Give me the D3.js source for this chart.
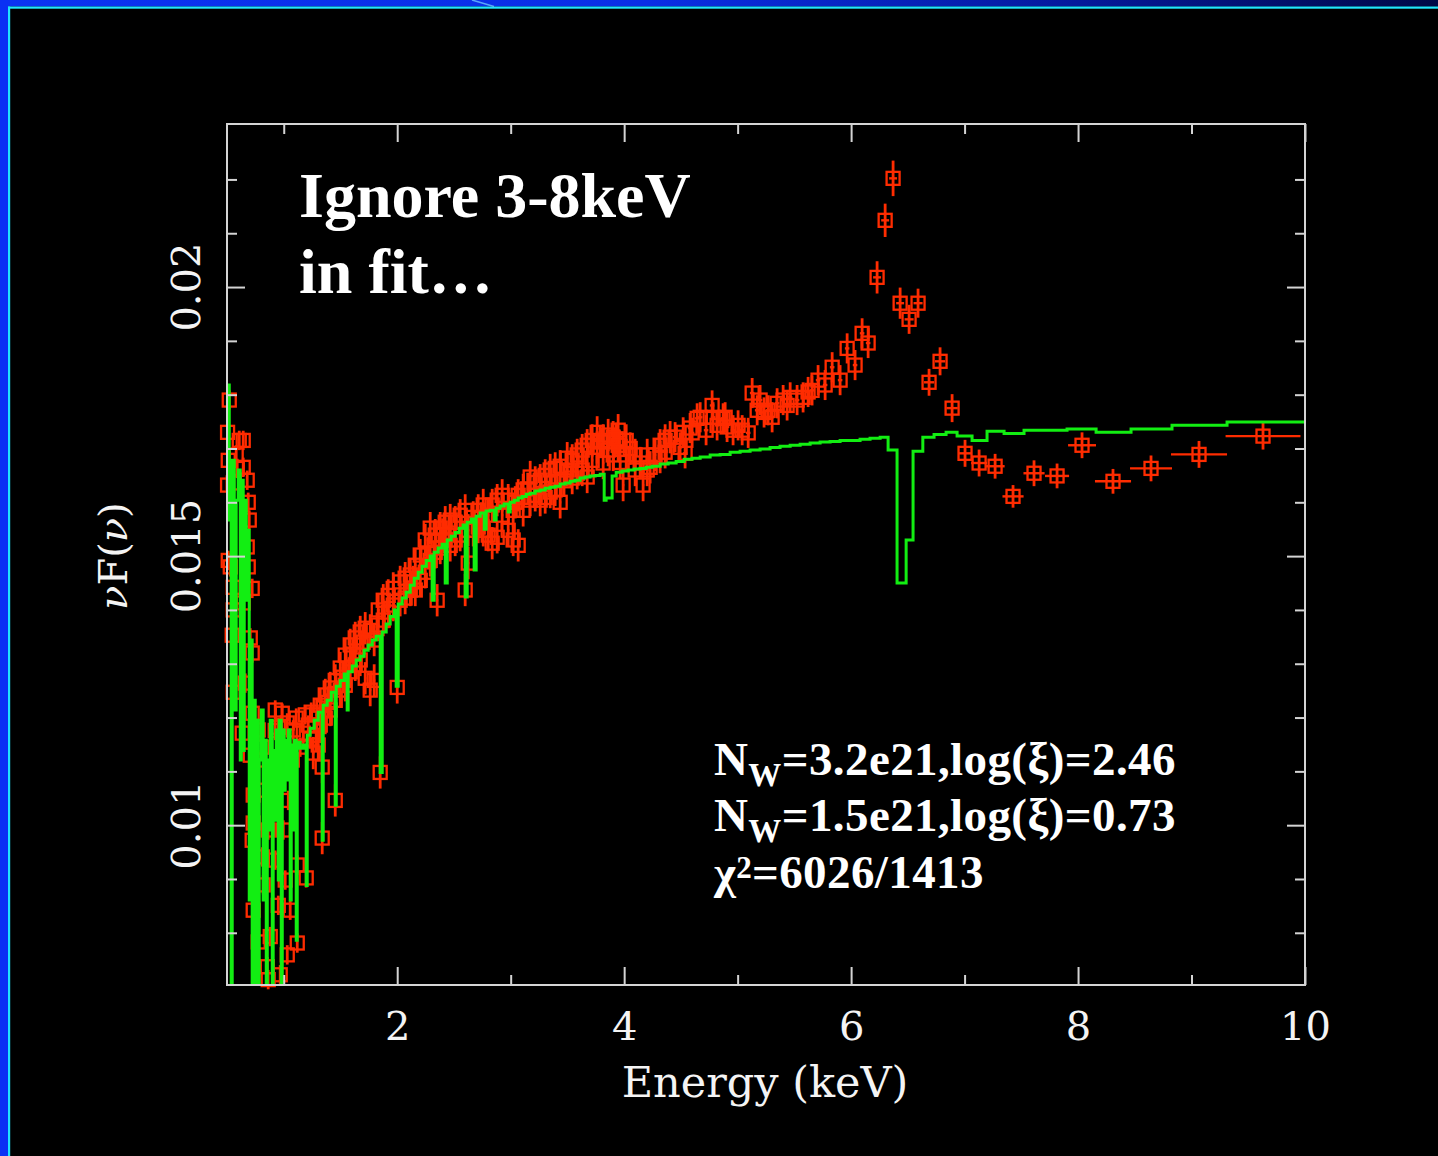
<!DOCTYPE html>
<html>
<head>
<meta charset="utf-8">
<script src="https://cdn.jsdelivr.net/npm/d3@7"></script>
<style>
  html, body { margin: 0; padding: 0; background: #000; }
  svg { display: block; }
</style>
</head>
<body>
<svg id="chart" width="1438" height="1156"></svg>
<script>
// ---- Spectrum data: [energy keV, nuF(nu)] ----
// Soft band, 0.5-1.25 keV
const softBand = [
  [0.520,0.01790],[0.505,0.01730],[0.608,0.01715],[0.643,0.01715],[0.511,0.01678],[0.581,0.01688],
  [0.590,0.01663],[0.643,0.01665],[0.678,0.01641],[0.505,0.01632],[0.555,0.01636],[0.687,0.01600],
  [0.696,0.01567],[0.511,0.01492],[0.678,0.01517],[0.687,0.01480],[0.529,0.01480],[0.555,0.01442],
  [0.722,0.01440],[0.555,0.01400],[0.643,0.01413],[0.546,0.01353],[0.705,0.01348],[0.722,0.01320],
  [0.555,0.01247],[0.661,0.01264],[0.722,0.01208],[0.634,0.01171],[0.925,0.01214],[0.705,0.01130],
  [0.775,0.01177],[0.811,0.01145],[0.731,0.01056],[0.731,0.01004],[0.722,0.00972],[0.811,0.00941],
  [1.119,0.00926],[0.731,0.00842],[1.057,0.00842],[0.775,0.00783],[1.119,0.00781],[0.855,0.00737],
  [1.031,0.00759],[0.969,0.00722],[0.863,0.00713],[1.198,0.00902],[0.881,0.01041],[0.899,0.01097],
  [0.952,0.01182],[0.987,0.01208],[1.145,0.01145],[0.775,0.01121],[0.837,0.01065],[0.863,0.00991],
  [0.925,0.00935],[0.996,0.00991],[1.040,0.01046],[1.075,0.01121],[1.013,0.00898],[0.819,0.00889],
  [0.952,0.00851],[0.881,0.00793],[1.084,0.01177],[1.110,0.01199],[1.172,0.01171],[1.216,0.01186],
  [1.242,0.01210],[0.925,0.01176],[1.031,0.01190],[1.190,0.01205],[1.230,0.01160]
];
// Mid band, 1.25-4.4 keV
const midBand = [
  [1.260,0.01134],[1.286,0.01167],[1.304,0.01149],[1.339,0.01108],[1.339,0.00976],[1.322,0.01223],
  [1.322,0.01186],[1.366,0.01242],[1.366,0.01199],[1.410,0.01255],[1.410,0.01214],[1.454,0.01269],
  [1.454,0.01232],[1.454,0.01046],[1.498,0.01292],[1.498,0.01251],[1.542,0.01316],[1.542,0.01260],
  [1.586,0.01335],[1.586,0.01285],[1.630,0.01348],[1.630,0.01298],[1.674,0.01359],[1.674,0.01307],
  [1.718,0.01366],[1.718,0.01273],[1.762,0.01362],[1.762,0.01251],[1.797,0.01344],[1.797,0.01269],
  [1.833,0.01400],[1.833,0.01372],[1.850,0.01098],[1.877,0.01418],[1.877,0.01381],[1.921,0.01427],
  [1.921,0.01396],[1.965,0.01440],[1.965,0.01409],[2.000,0.01256],[2.026,0.01452],[2.026,0.01418],
  [2.070,0.01459],[2.070,0.01422],[2.115,0.01465],[2.115,0.01437],[2.159,0.01483],[2.159,0.01437],
  [2.203,0.01502],[2.203,0.01455],[2.247,0.01530],[2.247,0.01470],[2.291,0.01552],[2.291,0.01492],
  [2.335,0.01539],[2.335,0.01507],[2.352,0.01418],[2.379,0.01552],[2.379,0.01515],[2.423,0.01563],
  [2.423,0.01530],[2.467,0.01567],[2.467,0.01520],[2.511,0.01563],[2.511,0.01530],[2.555,0.01576],
  [2.555,0.01539],[2.599,0.01585],[2.599,0.01437],[2.626,0.01487],[2.626,0.01548],[2.670,0.01572],
  [2.670,0.01548],[2.714,0.01585],[2.714,0.01554],[2.758,0.01595],[2.758,0.01548],[2.802,0.01576],
  [2.802,0.01539],[2.837,0.01524],[2.837,0.01595],[2.881,0.01535],[2.881,0.01604],[2.925,0.01613],
  [2.925,0.01576],[2.978,0.01604],[2.978,0.01548],[3.022,0.01585],[3.022,0.01530],[3.066,0.01520],
  [3.066,0.01613],[3.110,0.01623],[3.110,0.01585],[3.172,0.01647],[3.172,0.01604],[3.216,0.01637],
  [3.216,0.01613],[3.260,0.01641],[3.260,0.01604],[3.304,0.01650],[3.304,0.01609],[3.348,0.01660],
  [3.348,0.01619],[3.392,0.01663],[3.392,0.01623],[3.436,0.01667],[3.436,0.01600],[3.498,0.01660],
  [3.498,0.01682],[3.542,0.01678],[3.542,0.01645],[3.586,0.01654],[3.586,0.01688],[3.630,0.01697],
  [3.630,0.01660],[3.674,0.01647],[3.674,0.01706],[3.718,0.01715],[3.718,0.01678],[3.762,0.01702],
  [3.762,0.01730],[3.815,0.01673],[3.815,0.01715],[3.859,0.01725],[3.859,0.01697],[3.903,0.01721],
  [3.903,0.01688],[3.947,0.01734],[3.947,0.01706],[3.965,0.01674],[3.991,0.01632],[4.018,0.01715],
  [4.018,0.01688],[4.053,0.01700],[4.097,0.01688],[4.097,0.01660],[4.141,0.01673],[4.167,0.01632],
  [4.203,0.01688],[4.203,0.01660],[4.229,0.01665],[4.273,0.01688],[4.317,0.01684],[4.317,0.01706],
  [4.361,0.01715],[4.361,0.01693],[4.405,0.01721],
  [1.290,0.01205],[1.390,0.01228],[1.520,0.01275],[1.610,0.01318],[1.700,0.01340],[2.140,0.01452],
  [2.270,0.01505],[2.400,0.01540],[2.740,0.01570],[3.040,0.01600],[3.150,0.01625],[3.470,0.01640],
  [3.790,0.01712],[3.930,0.01718]
];
// Hard band, 4.4-6.2 keV
const hardBand = [
  [4.449,0.01721],[4.493,0.01702],[4.520,0.01730],[4.537,0.01691],[4.581,0.01738],[4.599,0.01729],
  [4.643,0.01756],[4.670,0.01758],[4.722,0.01734],[4.775,0.01780],[4.784,0.01758],[4.819,0.01743],
  [4.872,0.01756],[4.890,0.01758],[4.907,0.01740],[4.960,0.01734],[5.004,0.01743],[5.040,0.01734],
  [5.093,0.01729],[5.128,0.01803],[5.172,0.01771],[5.198,0.01790],[5.233,0.01767],[5.269,0.01771],
  [5.304,0.01758],[5.348,0.01784],[5.401,0.01790],[5.436,0.01780],[5.463,0.01795],[5.524,0.01790],
  [5.577,0.01795],[5.621,0.01805],[5.656,0.01808],[5.709,0.01827],[5.771,0.01818],[5.833,0.01851],
  [5.903,0.01827],[5.965,0.01886],[6.035,0.01855],[6.097,0.01914],[6.150,0.01896]
];
// Fe K region and continuum above it: [keV, nuF(nu), half bin width, 1-sigma error]
const ironLine = [
  [6.229,0.02018,0.035,0.00030],[6.300,0.02124,0.035,0.00031],[6.370,0.02202,0.035,0.00033],
  [6.432,0.01970,0.035,0.00029],[6.511,0.01940,0.040,0.00027],[6.590,0.01970,0.040,0.00027],
  [6.687,0.01823,0.045,0.00025],[6.784,0.01862,0.045,0.00026],[6.890,0.01775,0.050,0.00026]
];
const hardTail = [
  [7.004,0.01691,0.060,0.00025],[7.128,0.01673,0.070,0.00025],[7.269,0.01667,0.084,0.00023],
  [7.427,0.01611,0.093,0.00021],[7.612,0.01654,0.093,0.00024],[7.815,0.01649,0.106,0.00023],
  [8.035,0.01706,0.123,0.00024],[8.308,0.01639,0.159,0.00023],[8.643,0.01663,0.185,0.00024],
  [9.066,0.01689,0.247,0.00025],[9.630,0.01723,0.330,0.00025]
];
// Typical [half bin width, 1-sigma error] of the densely binned bands
const softErr = [0.006, 0.00018];
const midErr = [0.010, 0.00030];
const hardErr = [0.020, 0.00028];

// Warm-absorber model, histogram steps: [bin start keV, nuF(nu)]
const modelCurve = [
  [0.502,0.01818],[0.520,0.01567],[0.537,0.0068],[0.546,0.01678],[0.564,0.01214],[0.581,0.01604],
  [0.599,0.01660],[0.617,0.01121],[0.626,0.01641],[0.643,0.01139],[0.652,0.01604],[0.670,0.01418],
  [0.678,0.01548],[0.696,0.00861],[0.705,0.01344],[0.722,0.0068],[0.731,0.01232],[0.749,0.0068],
  [0.758,0.01195],[0.775,0.0068],[0.784,0.01121],[0.802,0.01214],[0.819,0.00861],[0.828,0.01158],
  [0.846,0.0068],[0.855,0.01121],[0.872,0.00991],[0.881,0.01195],[0.899,0.0068],[0.907,0.01139],
  [0.925,0.01009],[0.934,0.01177],[0.952,0.00898],[0.960,0.01195],[0.978,0.0068],[0.987,0.01177],
  [1.004,0.01065],[1.013,0.01158],[1.031,0.01084],[1.040,0.01177],[1.057,0.00861],[1.066,0.01149],
  [1.084,0.00991],[1.093,0.01158],[1.110,0.00786],[1.119,0.01154],[1.145,0.01143],[1.172,0.01149],
  [1.198,0.00888],[1.207,0.01167],[1.233,0.01180],[1.269,0.01195],[1.304,0.01210],[1.339,0.00972],
  [1.348,0.01223],[1.383,0.01232],[1.419,0.01247],[1.454,0.01037],[1.463,0.01258],[1.498,0.01269],
  [1.533,0.01281],[1.559,0.01214],[1.568,0.01285],[1.604,0.01296],[1.639,0.01307],[1.674,0.01314],
  [1.709,0.01325],[1.744,0.01335],[1.780,0.01344],[1.815,0.01351],[1.850,0.01098],[1.868,0.01359],
  [1.903,0.01374],[1.938,0.01388],[1.974,0.01400],[1.991,0.01258],[2.009,0.01411],[2.044,0.01422],
  [2.079,0.01433],[2.115,0.01446],[2.150,0.01459],[2.185,0.01470],[2.220,0.01481],[2.256,0.01492],
  [2.291,0.01500],[2.308,0.01418],[2.326,0.01507],[2.361,0.01515],[2.396,0.01522],[2.423,0.01450],
  [2.441,0.01530],[2.476,0.01537],[2.511,0.01544],[2.546,0.01552],[2.581,0.01558],[2.599,0.01424],
  [2.617,0.01563],[2.652,0.01569],[2.678,0.01474],[2.696,0.01574],[2.731,0.01580],[2.767,0.01550],
  [2.784,0.01584],[2.819,0.01585],[2.855,0.01567],[2.872,0.01589],[2.907,0.01593],[2.943,0.01597],
  [2.978,0.01582],[2.996,0.01600],[3.031,0.01604],[3.066,0.01608],[3.101,0.01611],[3.137,0.01615],
  [3.172,0.01617],[3.216,0.01621],[3.260,0.01623],[3.304,0.01626],[3.348,0.01628],[3.392,0.01630],
  [3.436,0.01634],[3.480,0.01636],[3.524,0.01639],[3.568,0.01641],[3.612,0.01645],[3.656,0.01647],
  [3.700,0.01649],[3.744,0.01650],[3.789,0.01652],[3.824,0.01604],[3.841,0.01608],[3.894,0.01649],
  [3.930,0.01656],[3.982,0.01658],[4.035,0.01660],[4.088,0.01662],[4.141,0.01663],[4.194,0.01665],
  [4.247,0.01667],[4.317,0.01671],[4.388,0.01673],[4.458,0.01676],[4.529,0.01680],[4.599,0.01682],
  [4.670,0.01684],[4.758,0.01688],[4.846,0.01689],[4.934,0.01693],[5.022,0.01695],[5.110,0.01697],
  [5.198,0.01699],[5.286,0.01702],[5.374,0.01704],[5.463,0.01706],[5.551,0.01708],[5.639,0.01710],
  [5.727,0.01712],[5.815,0.01713],[5.903,0.01715],[5.991,0.01715],[6.079,0.01717],[6.167,0.01719],
  [6.256,0.01721],[6.326,0.01697],[6.405,0.01450],[6.485,0.01530],[6.546,0.01695],[6.632,0.01721],
  [6.731,0.01726],[6.837,0.01730],[6.934,0.01723],[7.066,0.01715],[7.198,0.01732],[7.348,0.01728],
  [7.524,0.01734],[7.903,0.01736],[8.159,0.01730],[8.467,0.01736],[8.828,0.01743],[9.313,0.01749],
  [10.0,0.01749]
];

// Axis ticks and labels
const xMajorTicks = [2, 4, 6, 8, 10];
const xMinorTicks = [1, 3, 5, 7, 9];
const yMajorTicks = [0.01, 0.015, 0.02];
const yMinorTicks = [0.008, 0.009, 0.011, 0.012, 0.013, 0.014, 0.016, 0.017, 0.018, 0.019, 0.021, 0.022];
const xTitle = "Energy (keV)";
const noteLines = ["Ignore 3-8keV", "in fit…"];
const fitLines = [
  { main: "N", sub: "W", rest: "=3.2e21,log(ξ)=2.46" },
  { main: "N", sub: "W", rest: "=1.5e21,log(ξ)=0.73" }
];
const chiLine = { main: "χ", sup: "2", rest: "=6026/1413" };

// ---- Layout ----
const W = 1438, H = 1156;
const plot = { left: 227, right: 1305, top: 124, bottom: 985 };
const RED = "#ff2c00", GREEN = "#12ee12", AXIS = "#d4d4d4";

const x = d3.scaleLinear().domain([0.5, 10]).range([plot.left, plot.right]);
const y = d3.scaleLinear().domain([0.00703, 0.02303]).range([plot.bottom, plot.top]);

const svg = d3.select("#chart");
const defs = svg.append("defs");

// slide background and border
const grad = defs.append("linearGradient").attr("id", "topBar").attr("x1", 0).attr("x2", 1).attr("y1", 0).attr("y2", 0);
[[0, "#0b32f2"], [0.45, "#0a2ee6"], [0.75, "#05199c"], [1, "#000846"]].forEach(([o, c]) =>
  grad.append("stop").attr("offset", o).attr("stop-color", c));

svg.append("rect").attr("width", W).attr("height", H).attr("fill", "#000");
svg.append("rect").attr("x", 0).attr("y", 0).attr("width", W).attr("height", 6.5).attr("fill", "url(#topBar)");
svg.append("rect").attr("x", 0).attr("y", 0).attr("width", 8).attr("height", H).attr("fill", "#0a31f4");
svg.append("rect").attr("x", 8).attr("y", 6.5).attr("width", W - 8).attr("height", 2.2).attr("fill", "#20e6ff");
svg.append("rect").attr("x", 8).attr("y", 6.5).attr("width", 2.2).attr("height", H - 6.5).attr("fill", "#20e6ff");
svg.append("line").attr("x1", 472).attr("y1", 0).attr("x2", 494).attr("y2", 6.5)
  .attr("stroke", "#6fc4ff").attr("stroke-width", 1.5).attr("opacity", 0.8);

defs.append("clipPath").attr("id", "plotClip").append("rect")
  .attr("x", plot.left).attr("y", plot.top)
  .attr("width", plot.right - plot.left).attr("height", plot.bottom - plot.top);

// ---- Data points with error bars ----
const points = [].concat(
  softBand.map(d => ({ e: d[0], f: d[1], de: softErr[0], df: softErr[1] })),
  midBand.map(d => ({ e: d[0], f: d[1], de: midErr[0], df: midErr[1] })),
  hardBand.map(d => ({ e: d[0], f: d[1], de: hardErr[0], df: hardErr[1] })),
  ironLine.map(d => ({ e: d[0], f: d[1], de: d[2], df: d[3] })),
  hardTail.map(d => ({ e: d[0], f: d[1], de: d[2], df: d[3] }))
);

const gData = svg.append("g").attr("fill", "none").attr("stroke", RED);
gData.selectAll("line.ey").data(points).join("line").attr("class", "ey")
  .attr("x1", d => x(d.e)).attr("x2", d => x(d.e))
  .attr("y1", d => y(d.f - d.df)).attr("y2", d => y(d.f + d.df))
  .attr("stroke-width", 2.8);
gData.selectAll("line.ex").data(points).join("line").attr("class", "ex")
  .attr("x1", d => x(d.e - d.de)).attr("x2", d => x(d.e + d.de))
  .attr("y1", d => y(d.f)).attr("y2", d => y(d.f))
  .attr("stroke-width", 2.4);
gData.selectAll("rect.pt").data(points).join("rect").attr("class", "pt")
  .attr("x", d => x(d.e) - 6.5).attr("y", d => y(d.f) - 6.5)
  .attr("width", 13).attr("height", 13)
  .attr("stroke-width", 2.3);

// ---- Model ----
const modelLine = d3.line().x(d => x(d[0])).y(d => y(d[1])).curve(d3.curveStepAfter);
svg.append("path").datum(modelCurve)
  .attr("d", modelLine)
  .attr("clip-path", "url(#plotClip)")
  .attr("fill", "none").attr("stroke", GREEN).attr("stroke-width", 3);

// ---- Axes (inward ticks on all four sides) ----
function styleAxis(g) {
  g.select(".domain").remove();
  g.selectAll(".tick line").attr("stroke", AXIS).attr("stroke-width", 2);
}
const fontAxis = "'DejaVu Serif', serif";

svg.append("g").attr("transform", `translate(0,${plot.bottom})`)
  .call(d3.axisBottom(x).tickValues(xMajorTicks).tickSize(-18).tickSizeOuter(0).tickPadding(27).tickFormat(d3.format("d")))
  .call(styleAxis)
  .call(g => g.selectAll(".tick text").attr("fill", "#f4f4f4").attr("font-size", 40).attr("font-family", fontAxis));
svg.append("g").attr("transform", `translate(0,${plot.bottom})`)
  .call(d3.axisBottom(x).tickValues(xMinorTicks).tickSize(-10).tickSizeOuter(0).tickFormat(""))
  .call(styleAxis);
svg.append("g").attr("transform", `translate(0,${plot.top})`)
  .call(d3.axisTop(x).tickValues(xMajorTicks).tickSize(-18).tickSizeOuter(0).tickFormat(""))
  .call(styleAxis);
svg.append("g").attr("transform", `translate(0,${plot.top})`)
  .call(d3.axisTop(x).tickValues(xMinorTicks).tickSize(-10).tickSizeOuter(0).tickFormat(""))
  .call(styleAxis);
svg.append("g").attr("transform", `translate(${plot.left},0)`)
  .call(d3.axisLeft(y).tickValues(yMajorTicks).tickSize(-18).tickSizeOuter(0).tickFormat(""))
  .call(styleAxis);
svg.append("g").attr("transform", `translate(${plot.left},0)`)
  .call(d3.axisLeft(y).tickValues(yMinorTicks).tickSize(-10).tickSizeOuter(0).tickFormat(""))
  .call(styleAxis);
svg.append("g").attr("transform", `translate(${plot.right},0)`)
  .call(d3.axisRight(y).tickValues(yMajorTicks).tickSize(-18).tickSizeOuter(0).tickFormat(""))
  .call(styleAxis);
svg.append("g").attr("transform", `translate(${plot.right},0)`)
  .call(d3.axisRight(y).tickValues(yMinorTicks).tickSize(-10).tickSizeOuter(0).tickFormat(""))
  .call(styleAxis);

// frame
svg.append("rect").attr("x", plot.left).attr("y", plot.top)
  .attr("width", plot.right - plot.left).attr("height", plot.bottom - plot.top)
  .attr("fill", "none").attr("stroke", AXIS).attr("stroke-width", 2);

// rotated y tick labels
svg.append("g").selectAll("text").data(yMajorTicks).join("text")
  .attr("transform", d => `translate(200,${y(d)}) rotate(-90)`)
  .attr("text-anchor", "middle")
  .attr("font-family", fontAxis).attr("font-size", 40).attr("fill", "#f4f4f4")
  .text(d => String(+d.toFixed(3)));

// axis titles
svg.append("text").attr("x", 765).attr("y", 1097)
  .attr("text-anchor", "middle").attr("font-family", fontAxis).attr("font-size", 43).attr("fill", "#f4f4f4")
  .text(xTitle);
const yTitle = svg.append("text").attr("transform", `translate(127,${y(0.015)}) rotate(-90)`)
  .attr("text-anchor", "middle").attr("font-family", fontAxis).attr("font-size", 40).attr("fill", "#f4f4f4");
yTitle.append("tspan").attr("font-style", "italic").text("ν");
yTitle.append("tspan").text("F(");
yTitle.append("tspan").attr("font-style", "italic").text("ν");
yTitle.append("tspan").text(")");

// ---- Annotations ----
const fontNote = "'Liberation Serif', 'Times New Roman', serif";
svg.append("g").selectAll("text").data(noteLines).join("text")
  .attr("x", 299).attr("y", (d, i) => 217 + i * 76)
  .attr("font-family", fontNote).attr("font-weight", "bold").attr("font-size", 64).attr("fill", "#fff")
  .text(d => d);

const fitG = svg.append("g").attr("font-family", fontNote).attr("font-weight", "bold").attr("fill", "#fff");
fitLines.forEach((ln, i) => {
  const t = fitG.append("text").attr("x", 714).attr("y", 775 + i * 56).attr("font-size", 47).attr("letter-spacing", 0.4);
  t.append("tspan").text(ln.main);
  t.append("tspan").attr("font-size", 33).attr("dy", 11).text(ln.sub);
  t.append("tspan").attr("font-size", 47).attr("dy", -11).text(ln.rest);
});
const chiT = fitG.append("text").attr("x", 714).attr("y", 888).attr("font-size", 47).attr("letter-spacing", 0.4);
chiT.append("tspan").text(chiLine.main);
chiT.append("tspan").attr("font-size", 31).attr("dy", -10).text(chiLine.sup);
chiT.append("tspan").attr("font-size", 47).attr("dy", 10).text(chiLine.rest);
</script>
</body>
</html>
